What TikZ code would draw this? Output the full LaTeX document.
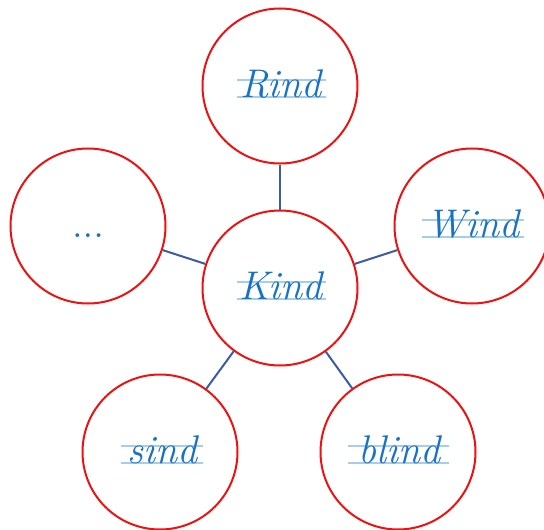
\documentclass[tikz,border=0pt]{standalone}
\usepackage{xcolor}
\definecolor{ringred}{HTML}{EE1111}
\definecolor{linkblue}{HTML}{3A5CA6}
\definecolor{wordblue}{HTML}{1572C6}
\definecolor{ruleblue}{HTML}{A6CDEE}
\begin{document}
\begin{tikzpicture}[x=1pt,y=-1pt,
  ring/.style={circle,draw=ringred,line width=2pt,minimum size=155pt,inner sep=0pt},
  link/.style={draw=linkblue,line width=2pt},
  word/.style={anchor=base,inner sep=0pt,text=wordblue,font=\fontsize{40}{42}\selectfont\itshape},
  rule/.style={draw=ruleblue,line width=1.1pt}]
\useasboundingbox (0,0) rectangle (544,530);
\clip (0,0) rectangle (544,530);
% rings
\node[ring] (kind) at (280,288) {};
\node[ring] (rind) at (280,86) {};
\node[ring] (wind) at (472,226) {};
\node[ring] (dots) at (88,226) {};
\node[ring] (sind) at (160,452) {};
\node[ring] (blind) at (398,452) {};
% connectors
\draw[link] (kind) -- (rind);
\draw[link] (kind) -- (wind);
\draw[link] (kind) -- (dots);
\draw[link] (kind) -- (sind);
\draw[link] (kind) -- (blind);
% writing lines
\foreach \n/\cx/\cy/\wl/\wr in {k/280/288/237/326, r/280/86/237/326, w/472/226/422/524, s/160/452/121/203, b/398/452/348/449}{
  \draw[rule] (\wl,\cy+11) -- (\wr,\cy+11);
  \draw[rule] (\wl,\cy-6) -- (\wr,\cy-6);
}
% words
\node[word] (tkind) at (281,299) {Kind};
\node[word] (trind) at (281,97) {Rind};
\node[word] (twind) at (473,237) {Wind};
\node[word] (tsind) at (162,463) {sind};
\node[word] (tblind) at (399,463) {blind};
\node[anchor=base,inner sep=0pt,text=wordblue,font=\fontsize{26}{28}\selectfont\bfseries] (tdots) at (88,237) {.\kern2.5pt.\kern2.5pt.};
\end{tikzpicture}
\end{document}
